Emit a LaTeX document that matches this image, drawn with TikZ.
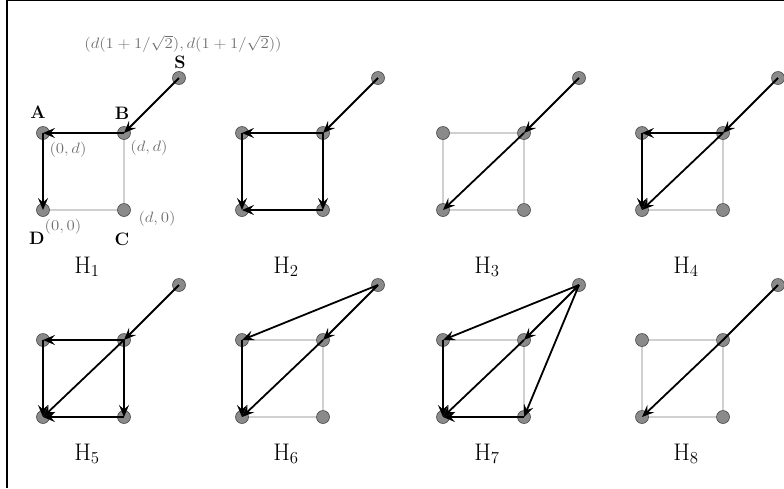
\RequirePackage{fix-cm}
\documentclass[tikz,border=0pt]{standalone}
\usetikzlibrary{arrows.meta,backgrounds}
\definecolor{vfill}{HTML}{8A8A8A}
\definecolor{vline}{HTML}{4A4A4A}
\definecolor{sqgray}{HTML}{D0D0D0}
\definecolor{coordtxt}{HTML}{6E6E6E}
\tikzset{
  vtx/.style={circle,fill=vfill,draw=vline,line width=0.6pt,minimum size=13pt,inner sep=0pt},
  sqedge/.style={draw=sqgray,line width=1.1pt},
  arr/.style={draw=black,line width=1.8pt,-{Stealth[length=12pt,width=10pt,inset=4.5pt]}},
  vlabel/.style={font=\fontsize{18}{21}\selectfont\bfseries,inner sep=0pt},
  ctxt/.style={text=coordtxt,font=\fontsize{15}{18}\selectfont,inner sep=0pt,xscale=1.12},
  hlabel/.style={font=\fontsize{24}{28}\selectfont,inner sep=0pt,anchor=base},
  frameline/.style={draw=black,line width=2.5pt}
}
\begin{document}
\begin{tikzpicture}[x=1pt,y=-1pt]
\useasboundingbox (0,0) rectangle (784,488);
\draw[frameline] (7,0) -- (784,0);
\draw[frameline] (7,0) -- (7,488);
% panels: vertices and captions
\foreach \p/\x/\y/\ly in {1/43/210/273, 2/242/210/273, 3/443/210/273, 4/642/210/273,
                          5/43/417/460, 6/242/417/460, 7/443/417/460, 8/642/417/460} {
  \node[vtx] (D\p) at (\x,\y) {};
  \node[vtx] (C\p) at (\x+81,\y) {};
  \node[vtx] (A\p) at (\x,\y-77) {};
  \node[vtx] (B\p) at (\x+81,\y-77) {};
  \node[vtx] (S\p) at (\x+136,\y-132) {};
  \node[hlabel] (H\p) at (\x+44,\ly) {H$_{\p}$};
}
% light grey squares behind the vertices
\begin{scope}[on background layer]
  \foreach \p in {1,...,8} {
    \draw[sqedge] (A\p.center) -- (B\p.center) -- (C\p.center) -- (D\p.center) -- cycle;
  }
\end{scope}
% labels of H1
\node[vlabel] (lS) at (180,62) {S};
\node[vlabel] (lA) at (38,112) {A};
\node[vlabel] (lB) at (122,113) {B};
\node[vlabel] (lD) at (37,238) {D};
\node[vlabel] (lC) at (122,239) {C};
\node[ctxt] (cS) at (183,44) {$(d(1+1/\sqrt{2}),d(1+1/\sqrt{2}))$};
\node[ctxt] (cA) at (68,150) {$(0,d)$};
\node[ctxt] (cB) at (149,148) {$(d,d)$};
\node[ctxt] (cD) at (63,227) {$(0,0)$};
\node[ctxt] (cC) at (157,219) {$(d,0)$};
% H1
\draw[arr] (S1.center) -- (B1.center);
\draw[arr] (B1.center) -- (A1.center);
\draw[arr] (A1.center) -- (D1.center);
% H2
\draw[arr] (S2.center) -- (B2.center);
\draw[arr] (B2.center) -- (A2.center);
\draw[arr] (A2.center) -- (D2.center);
\draw[arr] (B2.center) -- (C2.center);
\draw[arr] (C2.center) -- (D2.center);
% H3
\draw[arr] (S3.center) -- (B3.center);
\draw[arr] (B3.center) -- (D3.center);
% H4
\draw[arr] (S4.center) -- (B4.center);
\draw[arr] (B4.center) -- (A4.center);
\draw[arr] (A4.center) -- (D4.center);
\draw[arr] (B4.center) -- (D4.center);
% H5
\draw[arr] (S5.center) -- (B5.center);
\draw[arr] (B5.center) -- (A5.center);
\draw[arr] (A5.center) -- (D5.center);
\draw[arr] (B5.center) -- (C5.center);
\draw[arr] (C5.center) -- (D5.center);
\draw[arr] (B5.center) -- (D5.center);
% H6
\draw[arr] (S6.center) -- (B6.center);
\draw[arr] (S6.center) -- (A6.center);
\draw[arr] (A6.center) -- (D6.center);
\draw[arr] (B6.center) -- (D6.center);
% H7
\draw[arr] (S7.center) -- (A7.center);
\draw[arr] (S7.center) -- (B7.center);
\draw[arr] (S7.center) -- (C7.center);
\draw[arr] (A7.center) -- (D7.center);
\draw[arr] (B7.center) -- (D7.center);
\draw[arr] (C7.center) -- (D7.center);
% H8
\draw[arr] (S8.center) -- (B8.center) -- (D8.center);
\end{tikzpicture}
\end{document}
